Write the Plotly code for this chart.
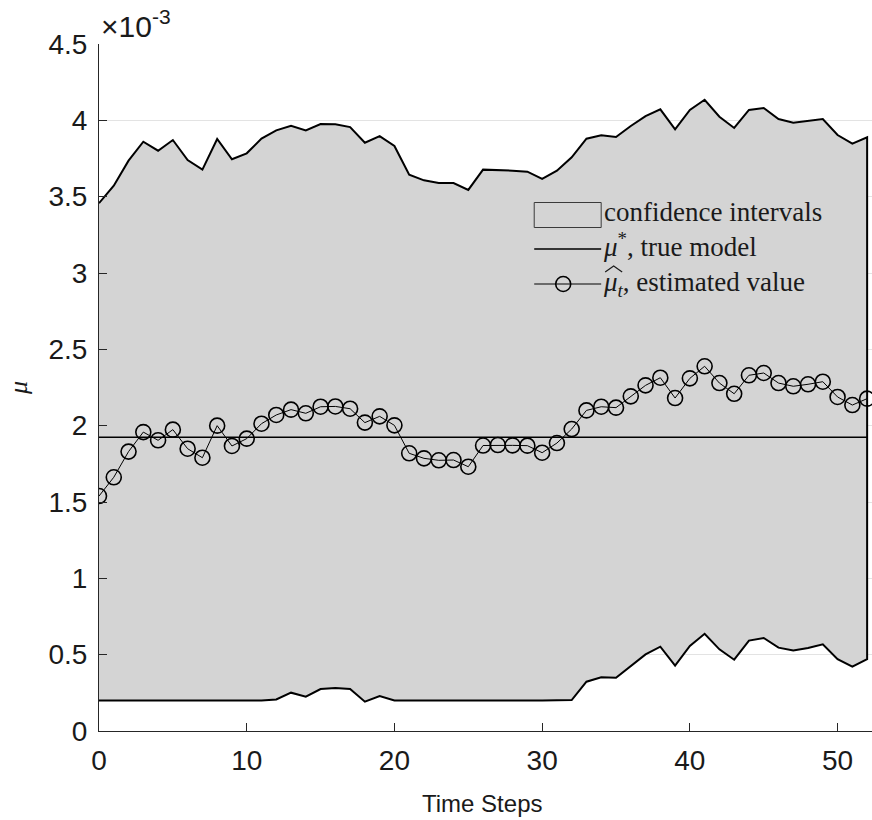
import plotly.graph_objects as go

# ---- data (values in units of 1e-3) ----
steps = list(range(53))

upper = [3.457, 3.572, 3.736, 3.860, 3.801, 3.871, 3.740, 3.677, 3.878, 3.745,
         3.784, 3.880, 3.934, 3.965, 3.934, 3.976, 3.974, 3.956, 3.853, 3.897,
         3.832, 3.644, 3.607, 3.589, 3.589, 3.544, 3.677, 3.675, 3.670, 3.664,
         3.616, 3.670, 3.758, 3.880, 3.902, 3.891, 3.963, 4.028, 4.072, 3.941,
         4.068, 4.135, 4.024, 3.950, 4.068, 4.081, 4.009, 3.985, 3.996, 4.009,
         3.904, 3.847, 3.889]

lower = [0.200, 0.200, 0.200, 0.200, 0.200, 0.200, 0.200, 0.200, 0.200, 0.200,
         0.200, 0.200, 0.207, 0.251, 0.225, 0.275, 0.282, 0.275, 0.192, 0.229,
         0.200, 0.200, 0.200, 0.200, 0.200, 0.200, 0.200, 0.200, 0.200, 0.200,
         0.200, 0.200, 0.203, 0.323, 0.352, 0.349, 0.426, 0.502, 0.552, 0.428,
         0.557, 0.637, 0.535, 0.467, 0.592, 0.609, 0.546, 0.528, 0.544, 0.568,
         0.470, 0.421, 0.470]

estimate = [1.539, 1.662, 1.830, 1.958, 1.904, 1.974, 1.849, 1.790, 2.000, 1.867,
            1.915, 2.013, 2.070, 2.105, 2.081, 2.124, 2.126, 2.111, 2.020, 2.061,
            2.002, 1.819, 1.786, 1.773, 1.775, 1.731, 1.870, 1.873, 1.871, 1.869,
            1.823, 1.886, 1.978, 2.100, 2.124, 2.118, 2.192, 2.264, 2.314, 2.181,
            2.310, 2.389, 2.279, 2.209, 2.330, 2.345, 2.279, 2.258, 2.271, 2.288,
            2.188, 2.135, 2.177]

true_mu = 1.924

x_ticks = [0, 10, 20, 30, 40, 50]
y_ticks = [0, 0.5, 1, 1.5, 2, 2.5, 3, 3.5, 4, 4.5]
y_ticklabels = ["0", "0.5", "1", "1.5", "2", "2.5", "3", "3.5", "4", "4.5"]

legend_labels = ["confidence intervals",
                 "<i>μ</i><sup>*</sup>, true model",
                 "<i>μ</i><sub><i>t</i></sub>, estimated value"]

SANS = "Liberation Sans, Arial, sans-serif"
SERIF = "Liberation Serif, Times New Roman, serif"
INK = "#1a1a1a"
BAND = "rgb(212,212,212)"

# ---- layout geometry (pixels) ----
W, H = 872, 820
ML, MR, MT, MB = 98.5, 0, 44, 89
PW, PH = W - ML - MR, H - MT - MB


def px(xp):
    return (xp - ML) / PW


def py(yp):
    return (H - MB - yp) / PH


fig = go.Figure()

fig.add_trace(go.Scatter(
    x=steps + steps[::-1],
    y=upper + lower[::-1],
    fill="toself",
    fillcolor=BAND,
    line=dict(color="black", width=2),
    mode="lines",
    name=legend_labels[0],
    hoverinfo="skip",
    showlegend=False,
))

fig.add_trace(go.Scatter(
    x=[steps[0], steps[-1]],
    y=[true_mu, true_mu],
    mode="lines",
    line=dict(color="black", width=1.3),
    name=legend_labels[1],
    showlegend=False,
))

fig.add_trace(go.Scatter(
    x=steps,
    y=estimate,
    mode="lines+markers",
    line=dict(color="black", width=1),
    marker=dict(symbol="circle-open", size=15, color="black", line=dict(width=1.6)),
    name=legend_labels[2],
    showlegend=False,
))

fig.update_layout(
    width=W, height=H,
    margin=dict(l=ML, r=MR, t=MT, b=MB),
    paper_bgcolor="white",
    plot_bgcolor="white",
    font=dict(family=SANS, color=INK),
    showlegend=False,
)

fig.update_xaxes(
    range=[0, 52.33], automargin=False,
    tickmode="array", tickvals=x_ticks,
    ticks="inside", ticklen=8, tickcolor="#262626", tickwidth=1,
    showline=True, linecolor="#262626", linewidth=1,
    showgrid=False, zeroline=False,
    tickfont=dict(family=SANS, size=28, color=INK),
    ticklabelstandoff=4,
)

fig.update_yaxes(
    range=[0, 4.5], automargin=False,
    tickmode="array", tickvals=y_ticks, ticktext=y_ticklabels,
    ticks="inside", ticklen=8, tickcolor="#262626", tickwidth=1,
    showline=True, linecolor="#262626", linewidth=1,
    showgrid=True, gridcolor="#e3e3e3", gridwidth=1,
    zeroline=False,
    tickfont=dict(family=SANS, size=28, color=INK),
    ticklabelstandoff=5,
    title=dict(text="<i>μ</i>", font=dict(family=SERIF, size=26, color=INK), standoff=13),
)

# x-axis title
fig.add_annotation(
    xref="paper", yref="paper", x=px(482), y=py(803),
    xanchor="center", yanchor="middle",
    text="Time Steps", showarrow=False,
    font=dict(family=SANS, size=24, color=INK),
)

# exponent label
fig.add_annotation(
    xref="paper", yref="paper", x=px(99), y=1,
    xanchor="left", yanchor="bottom",
    text="×10<sup>-3</sup>", showarrow=False,
    font=dict(family=SANS, size=30, color=INK),
    yshift=-1,
)

# ---- legend (drawn by hand to mimic the reference) ----
SX0, SX1 = 534, 601
rows = [215, 249, 284]
fig.add_annotation(
    xref="paper", yref="paper", x=px(601), y=py(rows[1]),
    xanchor="left", yanchor="middle", align="left",
    text="<br>".join(legend_labels), showarrow=False,
    font=dict(family=SERIF, size=27, color=INK),
)
fig.add_shape(type="rect", xref="paper", yref="paper",
              x0=px(SX0), x1=px(SX1), y0=py(rows[0] + 12.5), y1=py(rows[0] - 12.5),
              fillcolor=BAND, line=dict(color="#3a3a3a", width=1))
fig.add_shape(type="line", xref="paper", yref="paper",
              x0=px(SX0), x1=px(SX1), y0=py(rows[1]), y1=py(rows[1]),
              line=dict(color="black", width=1.3))
fig.add_shape(type="line", xref="paper", yref="paper",
              x0=px(SX0), x1=px(SX1), y0=py(rows[2]), y1=py(rows[2]),
              line=dict(color="black", width=1))
cx, r = 563, 7.5
fig.add_shape(type="circle", xref="paper", yref="paper",
              x0=px(cx - r), x1=px(cx + r), y0=py(rows[2] + r), y1=py(rows[2] - r),
              line=dict(color="black", width=1.6), fillcolor="rgba(0,0,0,0)")
# wide hat over mu in the third legend label
hx0, hx1, hy = 605, 622, rows[2] - 15
fig.add_shape(type="path", xref="paper", yref="paper",
              path="M {:.5f},{:.5f} L {:.5f},{:.5f} L {:.5f},{:.5f}".format(
                  px(hx0), py(hy + 3), px((hx0 + hx1) / 2), py(hy - 3), px(hx1), py(hy + 3)),
              line=dict(color=INK, width=1.2))

fig.write_html("out.html", config={"displayModeBar": False},
               post_script="document.body.style.margin='0';")
